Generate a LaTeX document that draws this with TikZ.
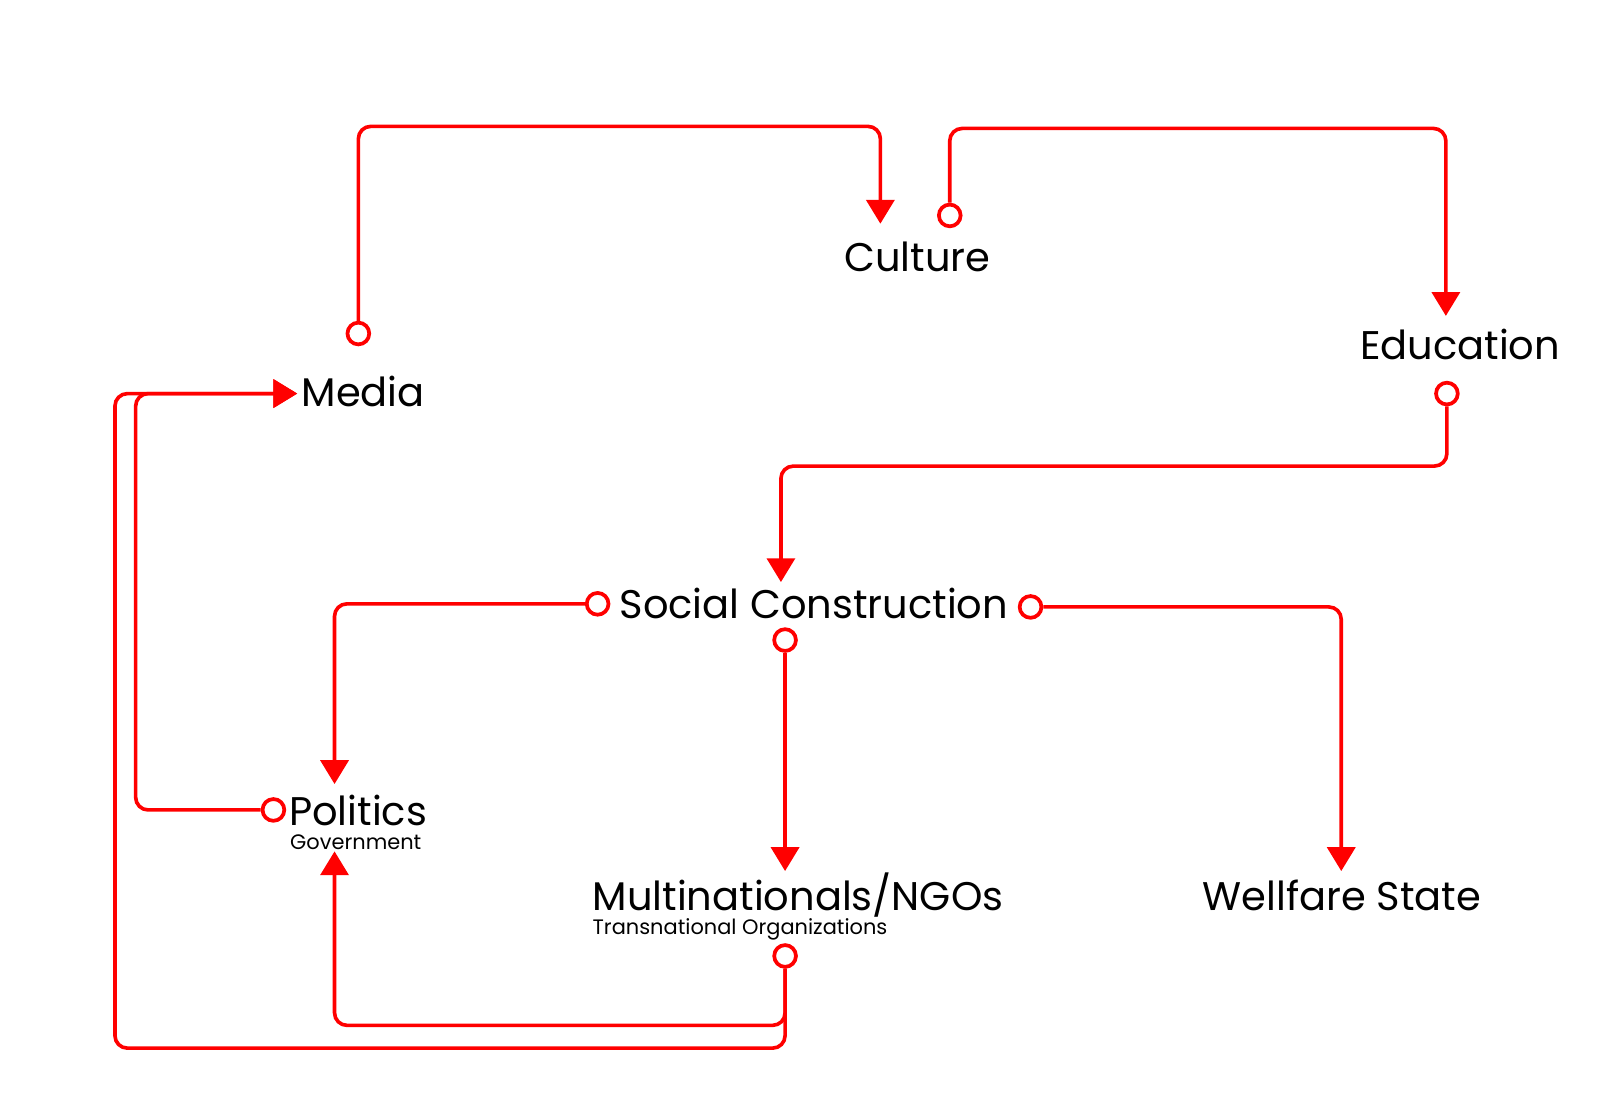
\documentclass[tikz,border=0pt]{standalone}
\usepackage{fontspec}
\setmainfont{Poppins}
\usetikzlibrary{arrows.meta}
\begin{document}
\begin{tikzpicture}[x=1pt,y=-1pt,
  lbl/.style={anchor=base west, inner sep=0pt, text=black, font=\fontsize{38.6}{40}\selectfont},
  sublbl/.style={anchor=base west, inner sep=0pt, text=black, font=\fontsize{20.2}{22}\selectfont},
  port/.style={circle, draw=red, line width=3.6pt, fill=white, minimum size=21pt, inner sep=0pt},
  link/.style={draw=red, line width=3.5pt, rounded corners=12pt, -{Triangle[length=23pt,width=27pt]}}]
\useasboundingbox (0,0) rectangle (1568,1078);
% labels
\node[lbl] (culture) at (815,262) {Culture};
\node[lbl] (education) at (1313,347) {Education};
\node[lbl] (media) at (291,392) {Media};
\node[lbl] (social) at (598,597) {Social Construction};
\node[lbl] (politics) at (279,797) {Politics};
\node[sublbl] (government) at (280,820) {Government};
\node[lbl] (multi) at (572,879) {Multinationals/NGOs};
\node[sublbl] (trans) at (572,902) {Transnational Organizations};
\node[lbl] (welfare) at (1161,879) {Wellfare State};
% arrow targets
\coordinate (cultureIn) at (850,216);
\coordinate (educationIn) at (1396,305);
\coordinate (socialIn) at (754,562);
\coordinate (politicsInTop) at (323,757);
\coordinate (politicsInBot) at (323,822);
\coordinate (multiIn) at (758,841);
\coordinate (welfareIn) at (1295,841);
\coordinate (mediaIn) at (287,380);
% ports
\node[port] (pMedia) at (346,322) {};
\node[port] (pCulture) at (917,208) {};
\node[port] (pEdu) at (1397,380) {};
\node[port] (pSCl) at (577,583) {};
\node[port] (pSCb) at (758,618) {};
\node[port] (pSCr) at (995,586) {};
\node[port] (pPol) at (264,782) {};
\node[port] (pMulti) at (758,923) {};
% connectors
\draw[link] (pMedia.north) -- (346,122) -- (850,122) -- (cultureIn);
\draw[link] (pCulture.north) -- (917,124) -- (1396,124) -- (educationIn);
\draw[link] (pEdu.south) -- (1397,450) -- (754,450) -- (socialIn);
\draw[link] (pSCl.west) -- (323,583) -- (politicsInTop);
\draw[link] (pSCb.south) -- (multiIn);
\draw[link] (pSCr.east) -- (1295,586) -- (welfareIn);
\draw[link] (pPol.west) -- (131,782) -- (131,380) -- (mediaIn);
\draw[link] (pMulti.south) -- (758,990) -- (323,990) -- (politicsInBot);
\draw[link] (pMulti.south) -- (758,1012) -- (111,1012) -- (111,380) -- (mediaIn);
\end{tikzpicture}
\end{document}
